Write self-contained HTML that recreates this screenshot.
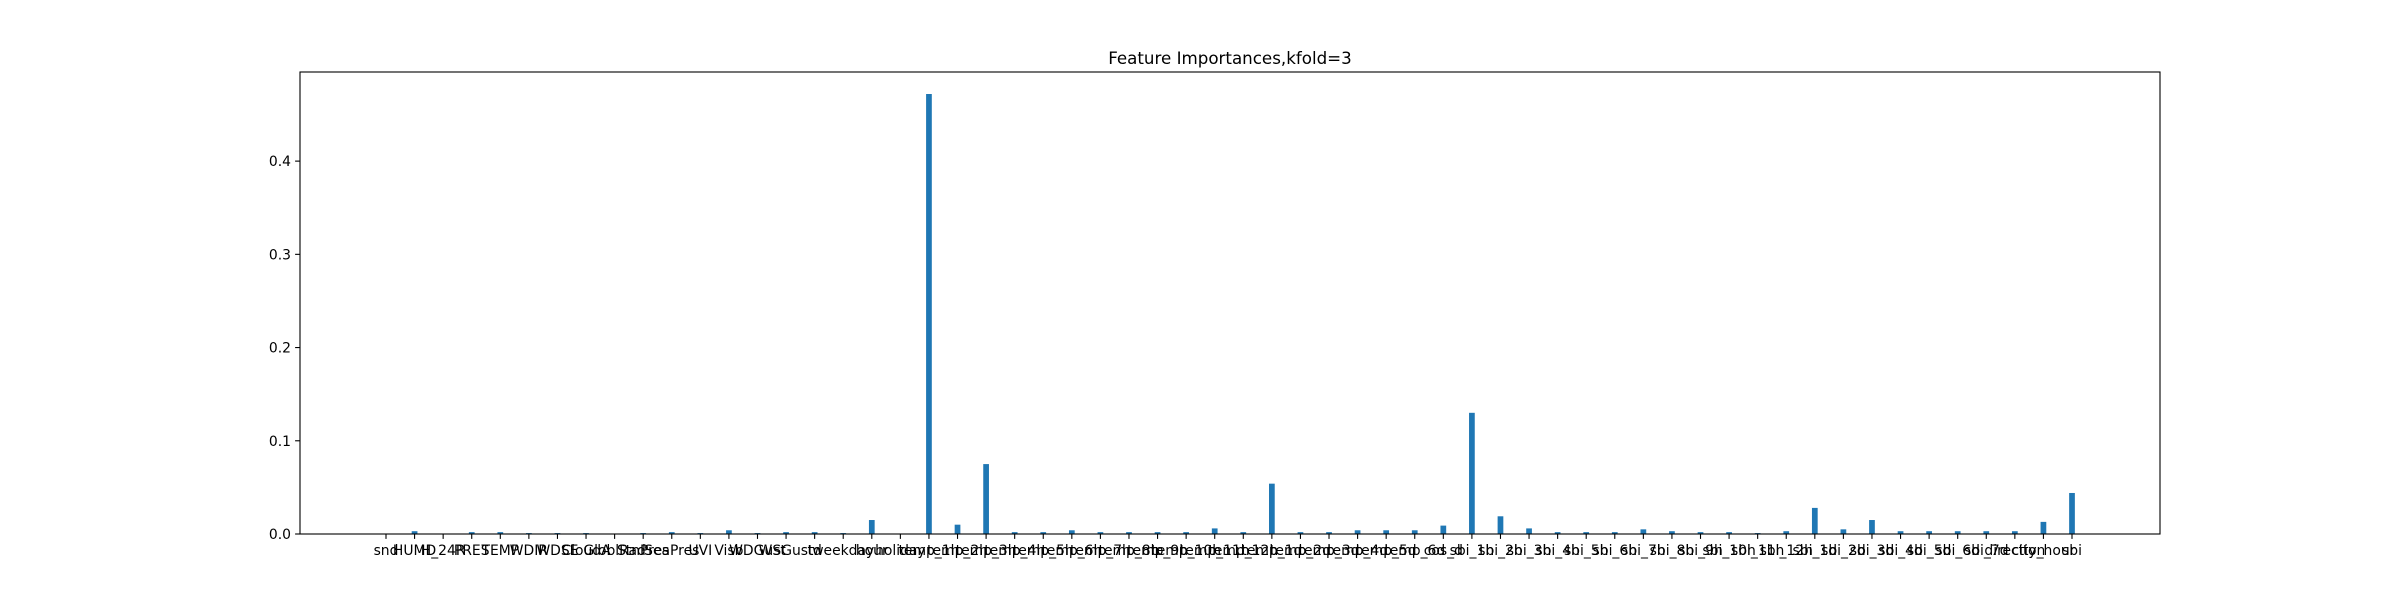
<!DOCTYPE html>
<html><head><meta charset="utf-8"><style>
html,body{margin:0;padding:0;background:#fff;}
svg text{font-family:"DejaVu Sans","Liberation Sans",sans-serif;fill:#000;}
</style></head><body>
<svg id="chart" width="2400" height="600" xmlns="http://www.w3.org/2000/svg">
<rect width="2400" height="600" fill="#fff"/>
<text x="1230" y="64" font-size="16.7" text-anchor="middle">Feature Importances,kfold=3</text>
<g id="plot"></g>
</svg>
<script>
const categories = ["snd","HUMD","H_24R","PRES","TEMP","WDIR","WDSE","CloudA","GloblRad","StnPres","SeaPres","UVI","Visb","WDGust","WSGust","td","weekday","hour","holiday",
"temp_1h","temp_2h","temp_3h","temp_4h","temp_5h","temp_6h","temp_7h","temp_8h","temp_9h","temp_10h","temp_11h","temp_12h",
"temp_1d","temp_2d","temp_3d","temp_4d","temp_5d","temp_6d","cos_d",
"sbi_1h","sbi_2h","sbi_3h","sbi_4h","sbi_5h","sbi_6h","sbi_7h","sbi_8h","sbi_9h","sbi_10h","sbi_11h","sbi_12h",
"sbi_1d","sbi_2d","sbi_3d","sbi_4d","sbi_5d","sbi_6d","sbi_7d","direction","city_hour","sbi"];
const importances = [0,0.003,0,0.002,0.002,0.001,0.001,0.001,0,0.001,0.002,0.001,0.004,0.001,0.002,0.002,0.001,0.015,0,
0.472,0.010,0.075,0.002,0.002,0.004,0.002,0.002,0.002,0.002,0.006,0.002,
0.054,0.002,0.002,0.004,0.004,0.004,0.009,
0.130,0.019,0.006,0.002,0.002,0.002,0.005,0.003,0.002,0.002,0.001,0.003,
0.028,0.005,0.015,0.003,0.003,0.003,0.003,0.003,0.013,0.044];
const yTicks = [0.0,0.1,0.2,0.3,0.4];
const yTickLabels = ["0.0","0.1","0.2","0.3","0.4"];

const L=300,R=2160,T=72,B=534;
const n=categories.length;
const x0=386, x1=2072;
const step=(x1-x0)/(n-1);
function xScale(i){return x0+i*step;}
const ymax=Math.max(...importances)*1.05;
function yScale(v){return B-(v/ymax)*(B-T);}
const NS="http://www.w3.org/2000/svg";
const g=document.getElementById('plot');
function mk(tag,attrs){const e=document.createElementNS(NS,tag);for(const k in attrs)e.setAttribute(k,attrs[k]);g.appendChild(e);return e;}
const bw=step*0.2;
importances.forEach((v,i)=>{
  const r=mk('rect',{x:xScale(i)-bw/2,y:yScale(v),width:bw,height:B-yScale(v),fill:'#1f77b4'});
  
  
});
const frame=mk('rect',{x:L,y:T,width:R-L,height:B-T,fill:'none',stroke:'#000','stroke-width':1.1});


yTicks.forEach((v,i)=>{
  const y=yScale(v);
  const tk=mk('line',{x1:L-4.9,x2:L,y1:y,y2:y,stroke:'#000','stroke-width':1.1});
  
  
  const t=mk('text',{x:L-9,y:y+5,'font-size':13.9,'text-anchor':'end'});
  t.textContent=yTickLabels[i];
  
  
});
categories.forEach((c,i)=>{
  const x=xScale(i);
  const tk=mk('line',{x1:x,x2:x,y1:B,y2:B+4.9,stroke:'#000','stroke-width':1.1});
  
  
  const t=mk('text',{x:x,y:B+21,'font-size':13.9,'text-anchor':'middle'});
  t.textContent=c;
  
  
});
</script>
</body></html>
